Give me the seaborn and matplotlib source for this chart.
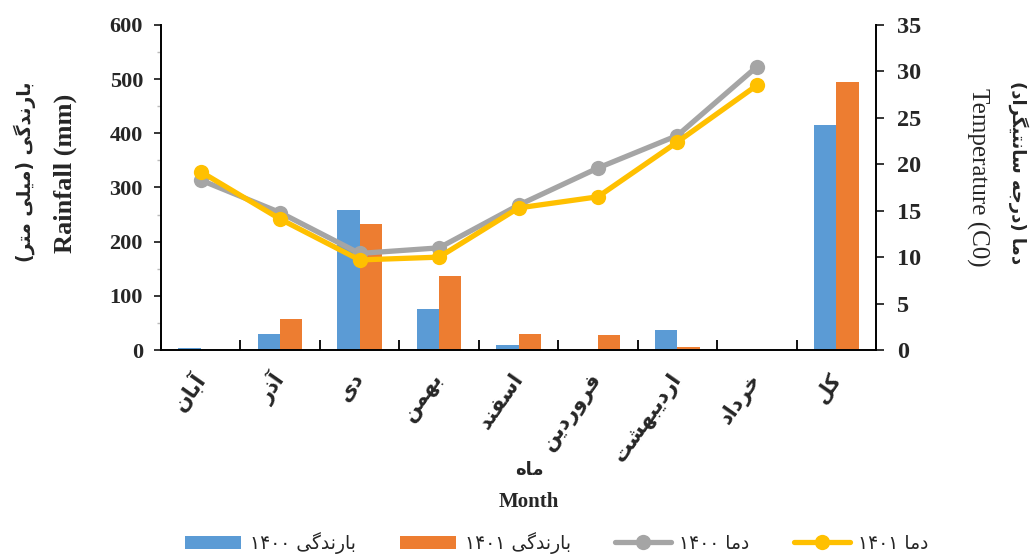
import numpy as np
import pandas as pd
import matplotlib
matplotlib.use("Agg")
import matplotlib.pyplot as plt
import seaborn as sns
from matplotlib.patches import Patch
from matplotlib.lines import Line2D
from matplotlib.ticker import MultipleLocator

# ---------------- data ----------------
months = ['آبان', 'آذر', 'دی', 'بهمن', 'اسفند', 'فروردین', 'اردیبهشت', 'خرداد', 'کل']
rain_1400 = [3, 30, 258, 75, 9, 0, 37, 0, 415]
rain_1401 = [0, 58, 232, 136, 29, 28, 5, 0, 494]
temp_1400 = [18.3, 14.8, 10.4, 11.0, 15.6, 19.6, 23.1, 30.5, np.nan]
temp_1401 = [19.2, 14.1, 9.7, 10.0, 15.3, 16.5, 22.4, 28.5, np.nan]
series_names = ['بارندگی ۱۴۰۰', 'بارندگی ۱۴۰۱', 'دما ۱۴۰۰', 'دما ۱۴۰۱']
left_label_fa = 'بارندگی (میلی متر)'
left_label_en = 'Rainfall (mm)'
right_label_fa = 'دما (درجه سانتیگراد)'
right_label_en = 'Temperature (C0)'
x_label_fa = 'ماه'
x_label_en = 'Month'

# ------------- minimal Persian shaping + RTL ordering -------------
FORMS = {
    'ا': ('\uFE8D', '\uFE8E', None, None),
    'آ': ('\uFE81', '\uFE82', None, None),
    'ب': ('\uFE8F', '\uFE90', '\uFE91', '\uFE92'),
    'پ': ('\uFB56', '\uFB57', '\uFB58', '\uFB59'),
    'ت': ('\uFE95', '\uFE96', '\uFE97', '\uFE98'),
    'ج': ('\uFE9D', '\uFE9E', '\uFE9F', '\uFEA0'),
    'خ': ('\uFEA5', '\uFEA6', '\uFEA7', '\uFEA8'),
    'د': ('\uFEA9', '\uFEAA', None, None),
    'ذ': ('\uFEAB', '\uFEAC', None, None),
    'ر': ('\uFEAD', '\uFEAE', None, None),
    'ز': ('\uFEAF', '\uFEB0', None, None),
    'س': ('\uFEB1', '\uFEB2', '\uFEB3', '\uFEB4'),
    'ش': ('\uFEB5', '\uFEB6', '\uFEB7', '\uFEB8'),
    'ف': ('\uFED1', '\uFED2', '\uFED3', '\uFED4'),
    'ک': ('\uFB8E', '\uFB8F', '\uFB90', '\uFB91'),
    'گ': ('\uFB92', '\uFB93', '\uFB94', '\uFB95'),
    'ل': ('\uFEDD', '\uFEDE', '\uFEDF', '\uFEE0'),
    'م': ('\uFEE1', '\uFEE2', '\uFEE3', '\uFEE4'),
    'ن': ('\uFEE5', '\uFEE6', '\uFEE7', '\uFEE8'),
    'ه': ('\uFEE9', '\uFEEA', '\uFEEB', '\uFEEC'),
    'و': ('\uFEED', '\uFEEE', None, None),
    'ی': ('\uFBFC', '\uFBFD', '\uFBFE', '\uFBFF'),
}
DIGITS = set('0123456789۰۱۲۳۴۵۶۷۸۹')
MIRROR = {'(': ')', ')': '('}


def rtl(text):
    shaped = []
    n = len(text)
    for i, c in enumerate(text):
        f = FORMS.get(c)
        if f is None:
            shaped.append(MIRROR.get(c, c))
            continue
        prev = text[i - 1] if i > 0 else None
        nxt = text[i + 1] if i < n - 1 else None
        jp = prev in FORMS and FORMS[prev][2] is not None
        jn = nxt in FORMS and f[2] is not None
        if jp and jn:
            g = f[3]
        elif jp:
            g = f[1]
        elif jn:
            g = f[2]
        else:
            g = f[0]
        shaped.append(g)
    vis = shaped[::-1]
    out, run = [], []
    for ch in vis:
        if ch in DIGITS:
            run.append(ch)
        else:
            if run:
                out.extend(run[::-1]); run = []
            out.append(ch)
    if run:
        out.extend(run[::-1])
    return ''.join(out)


# ---------------- styling ----------------
sns.set_style("ticks")
plt.rcParams['font.family'] = ['Liberation Serif', 'DejaVu Sans']
FA = 'DejaVu Sans'
SERIF = 'Liberation Serif'
blue, orange, gray, yellow = '#5B9BD5', '#ED7D31', '#A5A5A5', '#FFC000'

fig = plt.figure(figsize=(10.36, 5.59), dpi=100)
ax = fig.add_axes([161 / 1036, 1 - 350 / 559, (876 - 161) / 1036, (350 - 25) / 559])
ax2 = ax.twinx()

df = pd.DataFrame({
    'month': months * 2,
    'series': [series_names[0]] * len(months) + [series_names[1]] * len(months),
    'value': rain_1400 + rain_1401,
})
sns.barplot(data=df, x='month', y='value', hue='series', order=months,
            hue_order=series_names[:2], palette=[blue, orange], width=0.56,
            gap=0, saturation=1, linewidth=0, legend=False, ax=ax, zorder=2)

pos = np.arange(len(months))
lw, ms = 3.8, 11
sns.lineplot(x=pos, y=temp_1400, ax=ax2, color=gray, linewidth=lw, marker='o',
             markersize=ms, markeredgewidth=0, legend=False)
sns.lineplot(x=pos, y=temp_1401, ax=ax2, color=yellow, linewidth=lw, marker='o',
             markersize=ms, markeredgewidth=0, legend=False)

ax.set_xlim(-0.5, len(months) - 0.5)
ax.set_ylim(0, 600)
ax2.set_ylim(0, 35)
ax.yaxis.set_major_locator(MultipleLocator(100))
ax.yaxis.set_minor_locator(MultipleLocator(50))
ax2.yaxis.set_major_locator(MultipleLocator(5))

ax.set_xticks(np.arange(len(months) + 1) - 0.5)
ax.set_xticklabels([])
ax.set_xticks(pos, minor=True)
ax.set_xticklabels([rtl(m) for m in months], minor=True, rotation=55,
                   ha='right', va='center', rotation_mode='anchor',
                   fontfamily=FA, fontweight='bold', fontsize=15)
ax.tick_params(axis='x', which='major', direction='in', length=7, width=1.3, color='black')
ax.tick_params(axis='x', which='minor', length=0, pad=18)
ax.tick_params(axis='y', which='major', direction='out', length=5, width=1.3, pad=8)
ax.tick_params(axis='y', which='minor', direction='out', length=3, width=1, color='#BBBBBB')
ax2.tick_params(axis='y', which='major', direction='out', length=6, width=1.3, pad=9)

for t in ax.get_yticklabels():
    t.set_fontfamily(SERIF); t.set_fontweight('bold'); t.set_fontsize(16)
for t in ax2.get_yticklabels():
    t.set_fontfamily(SERIF); t.set_fontweight('bold'); t.set_fontsize(17.5)

ax.set_xlabel(''); ax.set_ylabel(''); ax2.set_ylabel('')
for a in (ax, ax2):
    a.spines['top'].set_visible(False)
    for s in ('left', 'right', 'bottom'):
        a.spines[s].set_linewidth(1.4)
        a.spines[s].set_color('black')
ax.spines['right'].set_visible(False)
ax2.spines['left'].set_visible(False)
ax2.spines['bottom'].set_visible(False)
ax.grid(False); ax2.grid(False)

# axis titles
fig.text(25 / 1036, 1 - 172 / 559, rtl(left_label_fa), rotation=90, ha='center', va='center',
         fontfamily=FA, fontweight='bold', fontsize=13.5)
fig.text(65 / 1036, 1 - 173 / 559, left_label_en, rotation=90, ha='center', va='center',
         fontfamily=SERIF, fontweight='bold', fontsize=19)
fig.text(1018 / 1036, 1 - 173 / 559, rtl(right_label_fa), rotation=-90, ha='center', va='center',
         fontfamily=FA, fontweight='bold', fontsize=13)
fig.text(978 / 1036, 1 - 177 / 559, right_label_en, rotation=-90, ha='center', va='center',
         fontfamily=SERIF, fontsize=18)
fig.text(529 / 1036, 1 - 470 / 559, rtl(x_label_fa), ha='center', va='center',
         fontfamily=FA, fontweight='bold', fontsize=13)
fig.text(529 / 1036, 1 - 502 / 559, x_label_en, ha='center', va='center',
         fontfamily=SERIF, fontweight='bold', fontsize=15)

handles = [Patch(facecolor=blue, edgecolor='none'),
           Patch(facecolor=orange, edgecolor='none'),
           Line2D([], [], color=gray, lw=lw, marker='o', markersize=ms, markeredgewidth=0),
           Line2D([], [], color=yellow, lw=lw, marker='o', markersize=ms, markeredgewidth=0)]
fig.legend(handles, [rtl(s) for s in series_names], loc='center', ncol=4,
           bbox_to_anchor=(557 / 1036, 1 - 543 / 559), frameon=False,
           prop={'family': FA, 'size': 13.5}, handlelength=3.0, handleheight=0.75,
           handletextpad=0.45, columnspacing=2.35, borderaxespad=0)

fig.savefig('out.png', dpi=100)
